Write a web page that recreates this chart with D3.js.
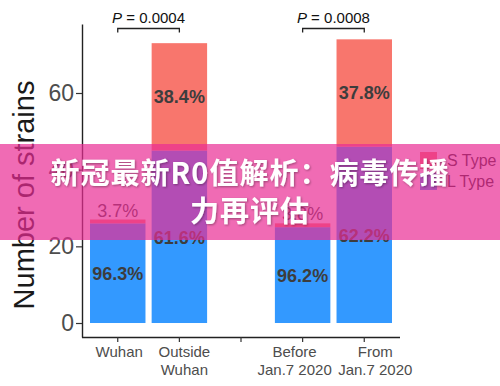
<!DOCTYPE html>
<html lang="zh">
<head>
<meta charset="UTF-8">
<title>Number of strains</title>
<style>
  body { margin: 0; background: #fff; }
  svg { display: block; font-family: "Liberation Sans", Arial, sans-serif; }
</style>
</head>
<body>
<svg id="chart" width="500" height="386"></svg>

<script src="https://cdn.jsdelivr.net/npm/d3@7"></script>
<script>
    // data
    let groups = ["wuhan", "outside", "gap", "before", "from"]
    let groupLabels = [["Wuhan"], ["Outside", "Wuhan"], [], ["Before", "Jan.7 2020"], ["From", "Jan.7 2020"]]
    let lType = [26, 45, null, 25, 46]
    let sType = [1, 28, null, 1, 28]
    let lPct = ["96.3%", "61.6%", null, "96.2%", "62.2%"]
    let sPct = ["3.7%", "38.4%", null, "3.8%", "37.8%"]
    let yTicks = [0, 20, 40, 60]
    let pTests = [
        { a: "wuhan", b: "outside", p: "0.0004" },
        { a: "before", b: "from", p: "0.0008" }
    ]
    let legendNames = ["S Type", "L Type"]
    let titleLines = ["新冠最新R0值解析：病毒传播", "力再评估"]

    let colorS = "#F8766D"
    let colorL = "#3399FF"

    let svg = d3.select("#chart")

    let x = d3.scaleBand()
        .domain(groups)
        .range([82, 400])
        .paddingInner(0.1)
        .paddingOuter(0.13)

    let y = d3.scaleLinear()
        .domain([-3.65, 78])
        .range([337, 24])

    let rows = groups.map((g, i) => ({
        g: g, l: lType[i], s: sType[i], lp: lPct[i], sp: sPct[i]
    })).filter(d => d.l != null)

    // bars
    let bars = svg.append("g")
    bars.selectAll("rect.l").data(rows).enter().append("rect")
        .attr("x", d => x(d.g))
        .attr("width", x.bandwidth())
        .attr("y", d => y(d.l))
        .attr("height", d => y(0) - y(d.l))
        .attr("fill", colorL)
    bars.selectAll("rect.s").data(rows).enter().append("rect")
        .attr("x", d => x(d.g))
        .attr("width", x.bandwidth())
        .attr("y", d => y(d.l + d.s))
        .attr("height", d => y(d.l) - y(d.l + d.s))
        .attr("fill", colorS)

    // percentage labels
    let labels = svg.append("g")
        .attr("text-anchor", "middle")
        .attr("font-size", 18)
        .attr("fill", "#3d3d3d")
    labels.selectAll("text.l").data(rows).enter().append("text")
        .attr("x", d => x(d.g) + x.bandwidth() / 2)
        .attr("y", d => (y(0) + y(d.l)) / 2 + 1)
        .attr("dy", "0.35em")
        .attr("font-weight", "bold")
        .text(d => d.lp)
    let isSmall = d => y(d.l) - y(d.l + d.s) < 20
    labels.selectAll("text.s").data(rows).enter().append("text")
        .attr("x", d => x(d.g) + x.bandwidth() / 2)
        .attr("y", d => isSmall(d) ? y(d.l + d.s) - 3 : (y(d.l) + y(d.l + d.s)) / 2)
        .attr("dy", d => isSmall(d) ? "0" : "0.35em")
        .attr("font-weight", d => isSmall(d) ? "normal" : "bold")
        .text(d => d.sp)

    // axes
    let yAxis = svg.append("g")
        .attr("transform", "translate(82,0)")
        .call(d3.axisLeft(y).tickValues(yTicks).tickSize(6).tickSizeOuter(0))
    yAxis.select(".domain").attr("stroke", "#222").attr("stroke-width", 1.4)
    yAxis.selectAll(".tick line").attr("stroke", "#333").attr("stroke-width", 1.2)
    yAxis.selectAll(".tick text")
        .attr("font-size", 23)
        .attr("fill", "#4d4d4d")
        .attr("font-family", "Liberation Sans, Arial, sans-serif")
        .attr("x", -8)

    let xAxis = svg.append("g")
        .attr("transform", "translate(0,337)")
        .call(d3.axisBottom(x).tickSize(5).tickSizeOuter(0).tickFormat(""))
    xAxis.select(".domain").attr("stroke", "#222").attr("stroke-width", 1.4)
        .attr("d", "M82,0.5H400")
    xAxis.selectAll(".tick line").attr("stroke", "#333").attr("stroke-width", 1.2)

    // tick labels are pushed apart a little so the long ones do not collide
    let nudge = [1.5, 5, 0, -8, 11]
    let xl = svg.append("g")
        .attr("text-anchor", "middle")
        .attr("font-size", 15)
        .attr("fill", "#4d4d4d")
    groups.forEach((g, i) => {
        let cx = x(g) + x.bandwidth() / 2 + nudge[i]
        let t = xl.append("text")
            .attr("x", cx)
            .attr("y", 357)
        groupLabels[i].forEach((line, j) => {
            t.append("tspan")
                .attr("x", cx)
                .attr("dy", j == 0 ? 0 : 18)
                .text(line)
        })
    })

    // y title
    svg.append("text")
        .attr("transform", "translate(34,195) rotate(-90)")
        .attr("text-anchor", "middle")
        .attr("font-size", 29)
        .attr("fill", "#1a1a1a")
        .text("Number of strains")

    // p-value brackets
    let br = svg.append("g")
    pTests.forEach(t => {
        let x1 = x(t.a) + x.bandwidth() / 2
        let x2 = x(t.b) + x.bandwidth() / 2
        let top = 28.5
        br.append("path")
            .attr("d", `M${x1},${top + 4}V${top}H${x2}V${top + 4}`)
            .attr("fill", "none")
            .attr("stroke", "#222")
            .attr("stroke-width", 1.3)
        let tx = br.append("text")
            .attr("x", (x1 + x2) / 2)
            .attr("y", top - 6)
            .attr("text-anchor", "middle")
            .attr("font-size", 15)
            .attr("fill", "#111")
        tx.append("tspan").attr("font-style", "italic").text("P")
        tx.append("tspan").text(" = " + t.p)
    })

    // legend
    let legend = svg.append("g").attr("transform", "translate(420,152)")
    legendNames.forEach((n, i) => {
        legend.append("rect")
            .attr("x", 0)
            .attr("y", i * 21)
            .attr("width", 17)
            .attr("height", 17)
            .attr("fill", i == 0 ? colorS : colorL)
        legend.append("text")
            .attr("x", 27)
            .attr("y", i * 21 + 8.5)
            .attr("dy", "0.35em")
            .attr("font-size", 16)
            .attr("fill", "#222")
            .text(n)
    })

    // banner over the chart
    let defs = svg.append("defs")
    let f = defs.append("filter").attr("id", "shadow")
        .attr("x", "-10%").attr("y", "-20%").attr("width", "120%").attr("height", "140%")
    f.append("feDropShadow")
        .attr("dx", 1).attr("dy", 1).attr("stdDeviation", 1)
        .attr("flood-color", "#000").attr("flood-opacity", 0.35)

    svg.append("rect")
        .attr("x", 0).attr("y", 144)
        .attr("width", 500).attr("height", 96)
        .attr("fill", "rgb(233,44,148)")
        .attr("opacity", 0.7)

    let title = svg.append("text")
        .attr("text-anchor", "middle")
        .attr("font-family", "Noto Sans CJK SC, sans-serif")
        .attr("font-weight", "bold")
        .attr("font-size", 29)
        .attr("letter-spacing", 1)
        .attr("fill", "#fff")
        .attr("filter", "url(#shadow)")
    titleLines.forEach((line, i) => {
        title.append("tspan")
            .attr("x", 250)
            .attr("y", 184 + i * 38)
            .text(line)
    })
</script>
</body>
</html>
